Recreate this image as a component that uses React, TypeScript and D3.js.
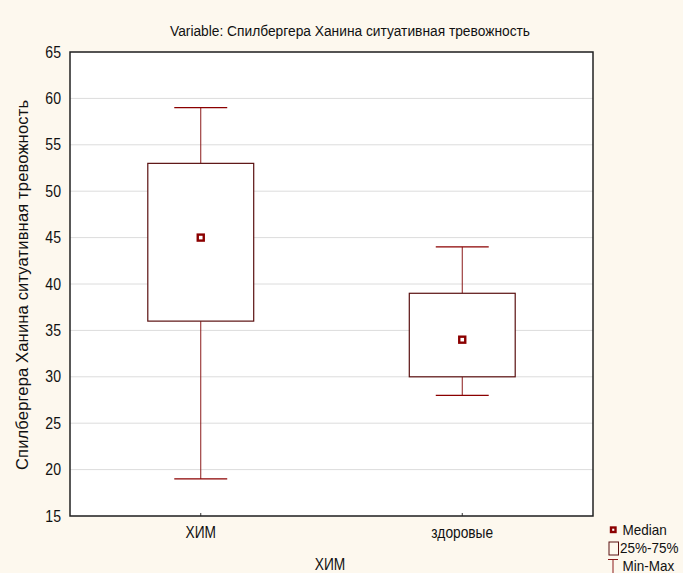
import React from "react";
import * as d3 from "d3";

const categories = ["ХИМ", "здоровые"];
const medians = [45, 34];
const q1 = [36, 30];
const q3 = [53, 39];
const mins = [19, 28];
const maxs = [59, 44];
const yTicks = [15, 20, 25, 30, 35, 40, 45, 50, 55, 60, 65];

const W = 683;
const H = 573;
const M = { left: 70, right: 90, top: 52, bottom: 57 };
const FONT = "Liberation Sans, Arial, sans-serif";
const DARK = "#8b0000";
const BOXC = "#5a1010";
const WHISK = "#8b1a1a";

// Text drawn with a horizontal squeeze, for the condensed label style.
function Label(props: {
  x: number;
  y: number;
  size: number;
  sx: number;
  anchor?: "start" | "middle" | "end";
  children: React.ReactNode;
}) {
  return (
    <text
      transform={`translate(${props.x},${props.y}) scale(${props.sx},1)`}
      fontSize={props.size}
      textAnchor={props.anchor || "start"}
      fill="#111"
    >
      {props.children}
    </text>
  );
}

export default function App() {
  const x = d3
    .scaleBand<string>()
    .domain(categories)
    .range([M.left, W - M.right])
    .paddingInner(0)
    .paddingOuter(0);
  const y = d3.scaleLinear().domain([15, 65]).range([H - M.bottom, M.top]);
  const bw = x.bandwidth();
  const boxW = bw * 0.405;
  const capW = boxW / 2;

  return (
    <svg
      width={W}
      height={H}
      style={{ position: "absolute", left: 0, top: 0, background: "#fdf8ee" }}
      fontFamily={FONT}
    >
      <rect x={0} y={0} width={W} height={H} fill="#fdf8ee" />
      <rect
        x={M.left}
        y={M.top}
        width={W - M.left - M.right}
        height={H - M.top - M.bottom}
        fill="#ffffff"
      />
      {yTicks.map((t) => (
        <g key={t}>
          <line
            x1={M.left}
            x2={W - M.right}
            y1={y(t)}
            y2={y(t)}
            stroke="#dcdcdc"
            strokeWidth={1}
          />
          <Label x={M.left - 9} y={y(t) + 5.5} size={16} sx={0.88} anchor="end">
            {t}
          </Label>
        </g>
      ))}
      {categories.map((c, i) => {
        const cx = (x(c) as number) + bw / 2;
        return (
          <g key={c}>
            <line x1={cx} x2={cx} y1={y(maxs[i])} y2={y(q3[i])} stroke={WHISK} strokeWidth={1} />
            <line x1={cx} x2={cx} y1={y(q1[i])} y2={y(mins[i])} stroke={WHISK} strokeWidth={1} />
            <line x1={cx - capW / 2} x2={cx + capW / 2} y1={y(maxs[i])} y2={y(maxs[i])} stroke={DARK} strokeWidth={1.2} />
            <line x1={cx - capW / 2} x2={cx + capW / 2} y1={y(mins[i])} y2={y(mins[i])} stroke={DARK} strokeWidth={1.2} />
            <rect
              x={cx - boxW / 2}
              y={y(q3[i])}
              width={boxW}
              height={y(q1[i]) - y(q3[i])}
              fill="#ffffff"
              stroke={BOXC}
              strokeWidth={1.2}
            />
            <rect x={cx - 3} y={y(medians[i]) - 3} width={6} height={6} fill="#ffffff" stroke={DARK} strokeWidth={2.4} />
            <line x1={cx} x2={cx} y1={H - M.bottom} y2={H - M.bottom - 3} stroke="#333" strokeWidth={1} />
            <Label x={cx} y={H - M.bottom + 22} size={16} sx={0.86} anchor="middle">
              {c}
            </Label>
          </g>
        );
      })}
      <rect
        x={M.left}
        y={M.top}
        width={W - M.left - M.right}
        height={H - M.top - M.bottom}
        fill="none"
        stroke="#222"
        strokeWidth={1.5}
      />
      <text
        x={350}
        y={36}
        textAnchor="middle"
        fontSize={14}
        fill="#111"
        textLength={360}
        lengthAdjust="spacingAndGlyphs"
      >
        Variable: Спилбергера Ханина ситуативная тревожность
      </text>
      <text
        transform={`translate(28, ${(M.top + H - M.bottom) / 2 + 1}) rotate(-90)`}
        textAnchor="middle"
        fontSize={16.5}
        fill="#111"
        textLength={370}
        lengthAdjust="spacing"
      >
        Спилбергера Ханина ситуативная тревожность
      </text>
      <Label x={330} y={570} size={16} sx={0.86} anchor="middle">
        ХИМ
      </Label>
      {/* legend */}
      <g>
        <rect x={611} y={527.5} width={4.5} height={4.5} fill="#ffffff" stroke={DARK} strokeWidth={2.4} />
        <Label x={622.5} y={535} size={15} sx={0.9}>Median</Label>
        <rect x={609} y={542} width={9.5} height={13} fill="none" stroke={BOXC} strokeWidth={1} />
        <Label x={620} y={553} size={15} sx={0.9}>25%-75%</Label>
        <line x1={608} x2={618} y1={559.5} y2={559.5} stroke={WHISK} strokeWidth={1} />
        <line x1={613} x2={613} y1={559.5} y2={573} stroke={WHISK} strokeWidth={1} />
        <Label x={622.5} y={571} size={15} sx={0.9}>Min-Max</Label>
      </g>
    </svg>
  );
}
